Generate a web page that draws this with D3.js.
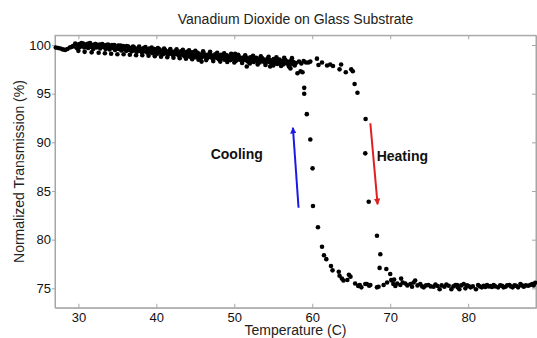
<!DOCTYPE html>
<html>
<head>
<meta charset="utf-8">
<script src="https://cdn.jsdelivr.net/npm/d3@7"></script>
<style>
  body { margin: 0; background: #fff; }
  svg { font-family: "Liberation Sans", Arial, sans-serif; }
</style>
</head>
<body>
<div id="chart"></div>
<script>
// [temperature (C), normalized transmission (%)]
const plateau = [
  [27.1,99.75],[27.4,99.7],[27.7,99.65],[28.0,99.55],[28.3,99.5],[28.6,99.6],[28.9,99.75],[29.1,99.8],
  [29.3,99.9],[29.5,99.85],[29.7,100.0],[29.8,99.7],
  [30.0,99.95],[30.1,100.1],[30.2,99.8],[30.35,100.05],[30.5,99.9],[30.6,100.15],[30.75,99.75],[30.9,100.0],
  [31.0,99.85],[31.1,100.1],[31.25,99.7],[31.4,99.95],[31.5,100.2],[31.65,99.8],[31.8,100.0],[31.9,99.6],
  [32.0,99.9],[32.15,100.1],[32.3,99.75],[32.4,100.0],[32.55,99.85],[32.7,100.05],[32.8,99.65],[32.95,99.9],
  [33.05,100.1],[33.2,99.8],[33.35,99.95],[33.5,99.6],[33.6,100.0],[33.75,99.75],[33.9,99.9],
  [34.0,99.55],[34.15,99.85],[34.3,100.0],[34.4,99.7],[34.55,99.9],[34.7,99.5],[34.85,99.8],[34.95,99.65],
  [35.1,99.95],[35.2,99.6],[35.35,99.8],[35.5,99.45],[35.6,99.7],[35.75,99.9],[35.9,99.55],
  [36.0,99.75],[36.15,99.4],[36.3,99.65],[36.4,99.85],[36.55,99.5],[36.7,99.7],[36.85,99.35],[36.95,99.6],
  [37.1,99.8],[37.2,99.45],[37.35,99.65],[37.5,99.3],[37.6,99.55],[37.75,99.75],[37.9,99.4],
  [38.0,99.6],[38.15,99.25],[38.3,99.5],[38.4,99.7],[38.55,99.35],[38.7,99.55],[38.85,99.2],[38.95,99.45],
  [39.1,99.65],[39.2,99.3],[39.35,99.5],[39.5,99.15],[39.6,99.4],[39.75,99.6],[39.9,99.25],
  [40.0,99.45],[40.15,99.1],[40.3,99.35],[40.4,99.55],[40.55,99.2],[40.7,99.4],[40.85,99.05],[40.95,99.3],
  [41.1,99.5],[41.2,99.15],[41.35,99.35],[41.5,99.0],[41.6,99.25],[41.75,99.45],[41.9,99.1],
  [42.0,99.3],[42.15,98.95],[42.3,99.2],[42.45,99.4],[42.6,99.05],[42.75,99.25],[42.9,98.9],
  [43.0,99.15],[43.15,99.35],[43.3,99.0],[43.45,99.2],[43.6,98.85],[43.75,99.1],[43.9,99.3],
  [44.0,98.95],[44.15,99.15],[44.3,98.8],[44.45,99.05],[44.6,99.25],[44.75,98.9],[44.9,99.1],
  [45.0,98.75],[45.15,99.0],[45.3,99.2],[45.45,98.85],[45.6,99.05],[45.75,98.7],[45.8,98.3],[45.9,98.95],
  [46.05,99.15],[46.2,98.8],[46.35,99.0],[46.5,98.65],[46.65,98.9],[46.8,99.1],[46.95,98.75],
  [47.1,98.95],[47.25,98.6],[47.4,98.85],[47.55,99.05],[47.7,98.7],[47.85,98.9],
  [48.0,98.55],[48.15,98.8],[48.3,99.0],[48.45,98.65],[48.6,98.85],[48.75,98.5],[48.9,98.75],
  [49.05,98.95],[49.2,98.6],[49.35,98.8],[49.5,98.45],[49.65,98.7],[49.8,98.9],[49.95,98.55],
  [50.1,99.1],[50.1,98.75],[50.25,98.4],[50.4,98.65],[50.55,98.85],[50.7,98.5],[50.85,98.7],
  [51.0,98.35],[51.15,98.6],[51.3,98.8],[51.45,98.45],[51.6,97.8],[51.6,98.65],[51.75,98.3],[51.9,98.55],
  [52.05,98.75],[52.2,98.4],[52.35,98.6],[52.5,98.25],[52.65,98.5],[52.8,98.7],[52.95,98.35],
  [53.1,98.55],[53.25,98.2],[53.4,98.45],[53.55,98.65],[53.7,98.3],[53.85,98.5],
  [54.0,98.15],[54.15,98.4],[54.3,98.6],[54.45,98.25],[54.6,97.8],[54.6,98.45],[54.75,98.1],[54.9,98.35],
  [55.05,98.55],[55.2,98.2],[55.35,98.4],[55.5,98.05],[55.65,98.3],[55.8,98.5],[55.95,98.15],
  [56.1,98.35],[56.25,98.0],[56.4,98.25],[56.55,98.45],[56.7,98.1],[56.85,98.3],
  [57.0,97.95],[57.15,98.2],[57.2,97.6],[57.3,98.4],[57.45,98.05],[57.6,98.25],[57.75,97.9],[57.9,98.15],
  [58.3,98.3],[58.6,98.1],[58.9,98.35],[59.2,98.2],[59.5,98.2],[59.75,98.3]
];

// scattered readings at the upper and lower edge of the plateau band
const plateauEdge = [
  [29.6,100.15],[30.0,99.4],[30.4,100.2],[30.8,99.3],[31.3,100.15],[31.7,99.25],[32.2,100.1],[32.6,99.2],
  [33.1,100.05],[33.4,99.15],[33.8,100.05],[34.2,99.1],[34.6,100.0],[35.0,99.05],[35.4,99.95],[35.8,99.05],
  [36.2,99.9],[36.6,99.0],[37.0,99.85],[37.4,98.95],[37.8,99.85],[38.2,98.95],[38.6,99.8],[39.0,98.9],
  [39.4,99.75],[39.8,98.85],[40.2,99.7],[40.6,98.8],[41.0,99.65],[41.4,98.75],[41.8,99.6],[42.2,98.7],
  [42.6,99.55],[43.0,98.65],[43.4,99.5],[43.8,98.6],[44.2,99.45],[44.6,98.55],[45.0,99.4],[45.4,98.5],
  [46.0,99.35],[46.4,98.45],[46.9,99.3],[47.3,98.35],[47.8,99.2],[48.2,98.3],[48.7,99.15],[49.1,98.25],
  [49.6,99.1],[50.0,98.2],[50.5,99.0],[51.0,98.15],[51.4,98.95],[52.0,98.1],[52.4,98.9],[53.0,98.0],
  [53.4,98.85],[54.0,97.95],[54.4,98.8],[55.0,97.9],[55.4,98.75],[56.0,97.85],[56.4,98.7],[57.0,97.8],
  [57.4,98.65]
];

const cooling = [
  [58.1,97.1],[58.5,97.3],[58.75,97.2],[58.97,95.6],[58.97,95.0],[59.3,92.9],[59.75,90.3],[60.04,87.33],
  [60.09,83.46],[60.73,81.27],[61.25,79.28],[61.5,78.4],[61.8,78.0],[62.4,77.3],[62.6,76.85],[63.4,76.7],
  [63.5,76.3],[63.8,76.0],[64.0,75.8],[64.5,75.85],[64.7,76.4],[64.9,76.2],[65.5,75.5],[65.9,75.25],
  [66.1,75.34],[66.3,75.1],[66.8,75.44],[67.0,75.44],[67.3,75.27],[67.45,75.34],[68.3,75.1],[68.5,75.16]
];

const heating = [
  [60.6,98.6],[60.8,97.95],[61.25,98.2],[61.9,97.9],[62.3,98.0],[62.66,97.85],[63.5,97.5],[63.7,98.0],
  [64.3,97.2],[65.0,97.5],[65.2,97.3],[65.43,96.0],[65.8,95.1],[66.84,92.4],[66.8,88.87],[67.24,83.9],
  [68.3,80.4],[68.73,78.5],[68.64,77.1],[69.5,76.98],[70.0,76.47],[70.14,75.85],[70.5,75.9]
];

const lowBand = [
  [69.15,75.34],[69.6,75.6],[70.2,75.8],[70.4,75.44],[70.66,75.24],[70.9,75.5],[71.3,75.34],[71.4,76.0],
  [71.6,75.6],[71.94,75.5],[72.2,75.3],[72.6,75.44],[72.8,75.16],[73.0,75.6],[73.2,75.8],[73.5,75.3],
  [73.86,75.44],[74.1,75.2],[74.3,75.1],[74.6,75.3],[74.9,75.34],[75.2,75.2],[75.57,75.16],[75.8,75.4],
  [76.08,75.24],[76.34,74.9],[76.6,75.3],[76.95,75.16],[77.2,75.4],[77.5,75.27],[77.84,74.9],[78.1,75.2],
  [78.36,75.34],[78.57,75.34],[78.65,75.1],[78.87,74.9],[79.1,75.3],[79.42,75.44],[79.64,75.0],[79.85,75.3],
  [80.07,75.24],[80.3,75.1],[80.6,75.2],[81.0,74.9],[81.27,75.34],[81.5,75.2],[81.75,75.1],[81.99,75.27],
  [82.2,75.15],[82.42,75.34],[82.65,75.2],[82.85,75.24],[83.05,75.15],[83.27,75.34],[83.5,75.2],[83.84,75.1],
  [84.1,75.3],[84.35,75.27],[84.55,75.1],[84.78,75.16],[85.0,75.3],[85.29,75.34],[85.5,75.2],[85.7,75.1],
  [85.95,75.3],[86.15,75.27],[86.4,75.1],[86.7,75.44],[86.9,75.3],[87.13,75.16],[87.4,75.3],[87.7,75.27],
  [87.95,75.35],[88.2,75.44],[88.4,75.3],[88.6,75.58]
];

const xTicks = [30, 40, 50, 60, 70, 80];
const yTicks = [75, 80, 85, 90, 95, 100];

// arrows: [from, to] in data units
const coolingArrow = [[58.24, 83.28], [57.52, 91.5]];
const heatingArrow = [[67.45, 91.96], [68.38, 83.63]];

const width = 537;
const height = 338;
const plot = { left: 55, right: 536, top: 35.3, bottom: 307.8 };

const svg = d3.select('#chart')
  .append('svg')
  .attr('width', width)
  .attr('height', height);

const x = d3.scaleLinear().domain([27, 88.7]).range([plot.left, plot.right]);
const y = d3.scaleLinear().domain([73, 101]).range([plot.bottom, plot.top]);

const axisColor = '#a6a6a6';

// frame
svg.append('rect')
  .attr('x', plot.left)
  .attr('y', plot.top)
  .attr('width', plot.right - plot.left)
  .attr('height', plot.bottom - plot.top)
  .attr('fill', 'none')
  .attr('stroke', axisColor);

// axes
svg.append('g')
  .attr('transform', `translate(0,${plot.bottom})`)
  .call(d3.axisBottom(x).tickValues(xTicks).tickSize(-4).tickSizeOuter(0).tickPadding(5));

svg.append('g')
  .attr('transform', `translate(0,${plot.top})`)
  .call(d3.axisTop(x).tickValues(xTicks).tickSize(-4).tickSizeOuter(0).tickFormat(() => ''));

svg.append('g')
  .attr('transform', `translate(${plot.left},0)`)
  .call(d3.axisLeft(y).tickValues(yTicks).tickSize(3).tickSizeOuter(0).tickPadding(1));

svg.append('g')
  .attr('transform', `translate(${plot.right},0)`)
  .call(d3.axisRight(y).tickValues(yTicks).tickSize(-4).tickSizeOuter(0).tickFormat(() => ''));

svg.selectAll('.domain').attr('stroke', axisColor);
svg.selectAll('.tick line').attr('stroke', axisColor);
svg.selectAll('.tick text')
  .attr('fill', '#111')
  .style('font-size', '13px')
  .style('font-family', '"Liberation Sans", Arial, sans-serif');

// points
const allPoints = [].concat(plateau, plateauEdge, cooling, heating, lowBand);
svg.append('g')
  .selectAll('circle')
  .data(allPoints)
  .enter()
  .append('circle')
  .attr('cx', d => x(d[0]))
  .attr('cy', d => y(d[1]))
  .attr('r', 2.3)
  .attr('fill', '#000');

// arrows
const defs = svg.append('defs');
function addMarker(id, color) {
  defs.append('marker')
    .attr('id', id)
    .attr('viewBox', '0 0 10 10')
    .attr('refX', 9)
    .attr('refY', 5)
    .attr('markerWidth', 3.2)
    .attr('markerHeight', 3.2)
    .attr('orient', 'auto')
    .append('path')
    .attr('d', 'M0,0L10,5L0,10Z')
    .attr('fill', color);
}
addMarker('arrowBlue', '#1a1ae6');
addMarker('arrowRed', '#e02020');

svg.append('line')
  .attr('x1', x(coolingArrow[0][0])).attr('y1', y(coolingArrow[0][1]))
  .attr('x2', x(coolingArrow[1][0])).attr('y2', y(coolingArrow[1][1]))
  .attr('stroke', '#1a1ae6')
  .attr('stroke-width', 2)
  .attr('marker-end', 'url(#arrowBlue)');

svg.append('line')
  .attr('x1', x(heatingArrow[0][0])).attr('y1', y(heatingArrow[0][1]))
  .attr('x2', x(heatingArrow[1][0])).attr('y2', y(heatingArrow[1][1]))
  .attr('stroke', '#e02020')
  .attr('stroke-width', 2)
  .attr('marker-end', 'url(#arrowRed)');

// annotations
svg.append('text')
  .attr('x', x(46.97))
  .attr('y', y(88.24))
  .style('font-size', '14px')
  .style('font-weight', 'bold')
  .attr('fill', '#111')
  .text('Cooling');

svg.append('text')
  .attr('x', x(68.26))
  .attr('y', y(88.05))
  .style('font-size', '14px')
  .style('font-weight', 'bold')
  .attr('fill', '#111')
  .text('Heating');

// titles
svg.append('text')
  .attr('x', (plot.left + plot.right) / 2)
  .attr('y', 24)
  .attr('text-anchor', 'middle')
  .style('font-size', '14px')
  .attr('fill', '#222')
  .text('Vanadium Dioxide on Glass Substrate');

svg.append('text')
  .attr('x', (plot.left + plot.right) / 2)
  .attr('y', 335)
  .attr('text-anchor', 'middle')
  .style('font-size', '14px')
  .attr('fill', '#222')
  .text('Temperature (C)');

svg.append('text')
  .attr('transform', `translate(24,${(plot.top + plot.bottom) / 2}) rotate(-90)`)
  .attr('text-anchor', 'middle')
  .style('font-size', '14px')
  .attr('fill', '#222')
  .text('Normalized Transmission (%)');
</script>
</body>
</html>
